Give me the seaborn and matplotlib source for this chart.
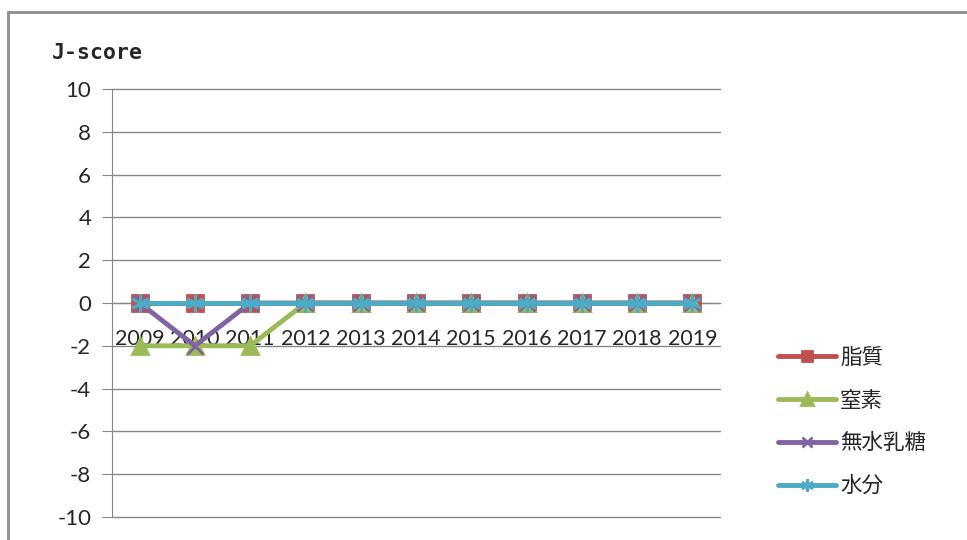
import pandas as pd
import matplotlib.pyplot as plt
import seaborn as sns
from matplotlib.lines import Line2D
from matplotlib.ticker import MultipleLocator

# datos
years = ['2009', '2010', '2011', '2012', '2013', '2014', '2015', '2016', '2017', '2018', '2019']
series_names = ['脂質', '窒素', '無水乳糖', '水分']
shishitsu = [0, 0, 0, 0, 0, 0, 0, 0, 0, 0, 0]
chisso = [-2, -2, -2, 0, 0, 0, 0, 0, 0, 0, 0]
nyuto = [0, -2, 0, 0, 0, 0, 0, 0, 0, 0, 0]
suibun = [0, 0, 0, 0, 0, 0, 0, 0, 0, 0, 0]

sns.set_style('white')
plt.rcParams['font.family'] = ['Lato', 'Noto Sans CJK JP', 'DejaVu Sans']
plt.rcParams['axes.unicode_minus'] = False

colores = ['#C0504D', '#9BBB59', '#8064A2', '#4BACC6']
marcadores = ['s', '^', 'x', (6, 2, 0)]
tamanos = [11, 12, 11, 13]

fig = plt.figure(figsize=(9.67, 5.4), dpi=100)
ax = fig.add_axes([112 / 967, 1 - 517 / 540, 608 / 967, 428 / 540])

pos = list(range(len(years)))
for nombre, valores, c, m, ms in zip(series_names, [shishitsu, chisso, nyuto, suibun], colores, marcadores, tamanos):
    sns.lineplot(x=pos, y=valores, ax=ax, color=c, marker=m, markersize=ms,
                 markeredgecolor=c, markeredgewidth=2, linewidth=3.5, label=nombre)

ax.set_xlim(-0.5, len(years) - 0.5)
ax.set_ylim(-10, 10)
ax.yaxis.set_major_locator(MultipleLocator(2))
ax.grid(axis='y', color='#868686', linewidth=1)
for g in ax.get_ygridlines():
    g.set_clip_on(False)
ax.set_axisbelow(True)

for lado in ['top', 'right']:
    ax.spines[lado].set_visible(False)
ax.spines['left'].set_color('#868686')
ax.spines['bottom'].set_color('#868686')
ax.spines['bottom'].set_position(('data', 0))
ax.spines['bottom'].set_zorder(0.5)

ax.set_xticks(pos)
ax.set_xticklabels(years, fontsize=15.5)
ax.set_xticks([p - 0.5 for p in pos] + [len(years) - 0.5], minor=True)
ax.tick_params(axis='x', which='major', length=0, pad=19)
ax.tick_params(axis='x', which='minor', length=7, color='#868686', direction='out')
ax.tick_params(axis='y', length=7, color='#868686', labelsize=16, pad=8, left=True)

# titulo del eje
fig.text(52 / 967, 1 - 53 / 540, 'J-score', fontsize=15.5, fontweight='bold',
         family=['DejaVu Sans Mono'], va='center', ha='left')

leg = ax.legend(loc='center left', bbox_to_anchor=(1.063, 0.222), frameon=False,
                fontsize=15.5, handlelength=2.7, labelspacing=1.05, handletextpad=0.2,
                markerscale=0.7)

# marco exterior
fig.add_artist(Line2D([8 / 967, 1], [1 - 12 / 540] * 2, color='#8c8c8c', linewidth=2, transform=fig.transFigure))
fig.add_artist(Line2D([8 / 967] * 2, [0, 1 - 12 / 540], color='#8c8c8c', linewidth=2, transform=fig.transFigure))

plt.savefig('out.png', dpi=100)
plt.close()
